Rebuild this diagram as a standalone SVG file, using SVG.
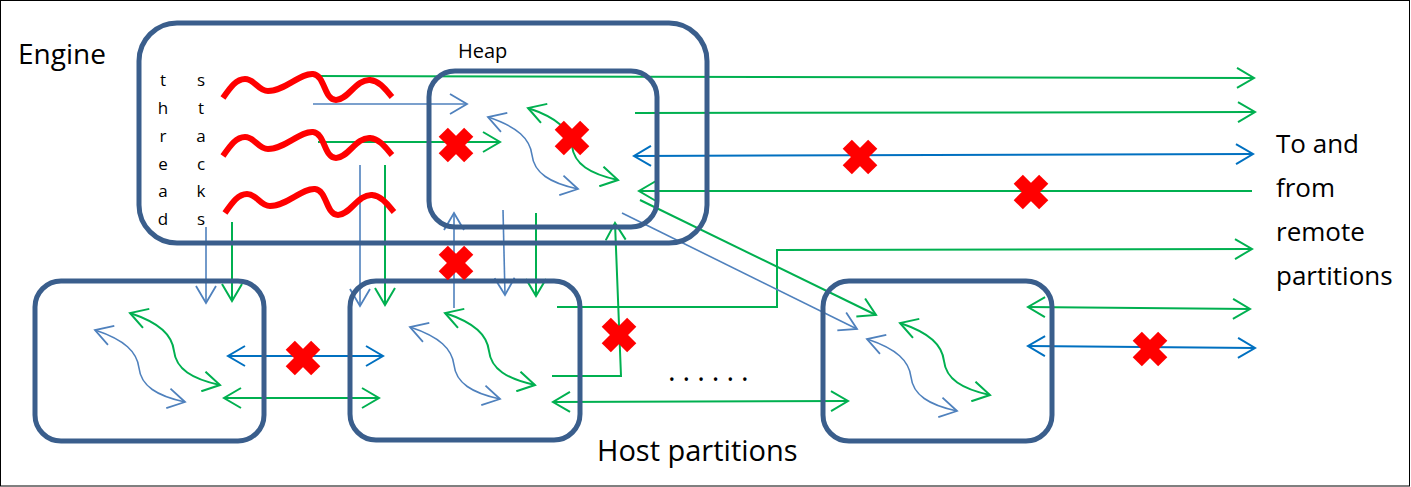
<svg xmlns="http://www.w3.org/2000/svg" width="1411" height="487" viewBox="0 0 1411 487">
<style>
.box{fill:none;stroke:#3A5E8C;stroke-width:5}
.g{fill:none;stroke:#00B050;stroke-width:2}
.lb{fill:none;stroke:#4F81BD;stroke-width:1.6}
.db{fill:none;stroke:#0070C0;stroke-width:2}
.wave{fill:none;stroke:#FF0000;stroke-width:6}
.txt{font-family:"Open Sans","Liberation Sans",sans-serif;fill:#000}
.ga{marker-end:url(#aG)}
.gaa{marker-start:url(#aG);marker-end:url(#aG)}
.lba{marker-end:url(#aL)}
.lbaa{marker-start:url(#aL);marker-end:url(#aL)}
.dbaa{marker-start:url(#aD);marker-end:url(#aD)}
</style>
<defs>
<marker id="aG" viewBox="0 0 20 22" refX="18" refY="11" markerWidth="20" markerHeight="22" markerUnits="userSpaceOnUse" orient="auto-start-reverse"><path d="M1,1 L18,11 L1,21" fill="none" stroke="#00B050" stroke-width="2"/></marker>
<marker id="aL" viewBox="0 0 20 22" refX="18" refY="11" markerWidth="20" markerHeight="22" markerUnits="userSpaceOnUse" orient="auto-start-reverse"><path d="M1,1 L18,11 L1,21" fill="none" stroke="#4F81BD" stroke-width="1.8"/></marker>
<marker id="aD" viewBox="0 0 20 22" refX="18" refY="11" markerWidth="20" markerHeight="22" markerUnits="userSpaceOnUse" orient="auto-start-reverse"><path d="M1,1 L18,11 L1,21" fill="none" stroke="#0070C0" stroke-width="2"/></marker>
<g id="xmark"><rect x="-18" y="-6.5" width="36" height="13" fill="#FF0000" transform="rotate(45)"/><rect x="-18" y="-6.5" width="36" height="13" fill="#FF0000" transform="rotate(-45)"/></g>
<path id="wavePath" d="M223,98 C230,88 236,79 245,79 C255,79 258,91 268,91 C285,91 300,73 313,74 C325,75 324,100 336,100 C348,100 356,79 370,80 C380,81 386,90 392,97"/>
</defs>
<rect x="0.5" y="0.5" width="1409" height="485.5" fill="#FFFFFF" stroke="#000" stroke-width="1"/>

<g id="connectors">
<path class="g ga" d="M313,76 L1254,78"/>
<path class="lb lba" d="M313,104 L467,104"/>
<path class="g ga" d="M318,142 L500,142"/>
<path class="lb lba" d="M360,165 L360,306"/>
<path class="g ga" d="M385,165 L385,305"/>
<path class="lb lba" d="M206,227 L206,303"/>
<path class="g ga" d="M232,222 L232,301"/>
<path class="db dbaa" d="M228,356 L383,356"/>
<path class="g gaa" d="M224,398 L379,398"/>
<path class="g ga" d="M557,307 L777,307 L777,250 L1252,249"/>
<path class="g ga" d="M552,376 L621,376 L615,223"/>
<path class="g gaa" d="M553,402 L848,401"/>
<path class="lb lba" d="M454,308 L454,213"/>
<path class="lb lba" d="M503,210 L505,295"/>
<path class="g ga" d="M536,213 L536,296"/>
<path class="g ga" d="M635,113 L1255,112"/>
<path class="db dbaa" d="M634,156 L1253,154"/>
<path class="g ga" d="M1252,191 L639,191"/>
<path class="g ga" d="M640,200 L876,315"/>
<path class="lb lba" d="M622,213 L857,329"/>
<path class="g gaa" d="M1028,307 L1250,309"/>
<path class="db dbaa" d="M1028,346 L1255,348"/>
<!-- internal S-curves -->
<path class="lb lbaa" d="M488,117 c30,10 42,22 44,38 c2,18 18,28 46,34"/>
<path class="g gaa" d="M528,108 c30,10 42,22 44,38 c2,18 18,28 46,34"/>
<path class="lb lbaa" d="M95,330 c30,10 42,22 44,38 c2,18 18,28 46,34"/>
<path class="g gaa" d="M130,313 c30,10 42,22 44,38 c2,18 18,28 46,34"/>
<path class="lb lbaa" d="M410,327 c30,10 42,22 44,38 c2,18 18,28 46,34"/>
<path class="g gaa" d="M445,313 c30,10 42,22 44,38 c2,18 18,28 46,34"/>
<path class="lb lbaa" d="M867,339 c30,10 42,22 44,38 c2,18 18,28 46,34"/>
<path class="g gaa" d="M900,323 c30,10 42,22 44,38 c2,18 18,28 46,34"/>
</g>

<g id="engine">
<rect class="box" x="139" y="23" width="568" height="220" rx="38"/>
<text class="txt" x="18" y="64" font-size="28">Engine</text>
<g id="thread-stacks" class="txt" font-size="17" text-anchor="middle">
<text x="163" y="86">t</text><text x="163" y="114">h</text><text x="163" y="142">r</text><text x="163" y="170">e</text><text x="163" y="197">a</text><text x="163" y="225">d</text>
<text x="201" y="86">s</text><text x="201" y="114">t</text><text x="201" y="142">a</text><text x="201" y="170">c</text><text x="201" y="197">k</text><text x="201" y="225">s</text>
</g>
<use href="#wavePath" class="wave"/>
<use href="#wavePath" class="wave" transform="translate(0,58)"/>
<use href="#wavePath" class="wave" transform="translate(2,115)"/>
</g>

<g id="heap">
<rect class="box" x="429" y="71" width="228" height="156" rx="26"/>
<text class="txt" x="458" y="58" font-size="20">Heap</text>
</g>

<g id="partition1"><rect class="box" x="35" y="281" width="229" height="160" rx="26"/></g>
<g id="partition2"><rect class="box" x="350" y="281" width="230" height="159" rx="26"/></g>
<g id="partition3"><rect class="box" x="823" y="281" width="229" height="160" rx="26"/></g>

<g id="blocked">
<use href="#xmark" x="456" y="145"/>
<use href="#xmark" x="572" y="138"/>
<use href="#xmark" x="456" y="263"/>
<use href="#xmark" x="860" y="157"/>
<use href="#xmark" x="1031" y="192"/>
<use href="#xmark" x="303" y="358"/>
<use href="#xmark" x="619" y="335"/>
<use href="#xmark" x="1150" y="349"/>
</g>

<g id="labels" class="txt">
<text x="1276" y="153" font-size="26">To and</text>
<text x="1276" y="197" font-size="26">from</text>
<text x="1276" y="241" font-size="26">remote</text>
<text x="1276" y="285" font-size="26">partitions</text>
<text x="597" y="461" font-size="29">Host partitions</text>
<text x="668" y="381" font-size="29" letter-spacing="7">......</text>
</g>
</svg>
